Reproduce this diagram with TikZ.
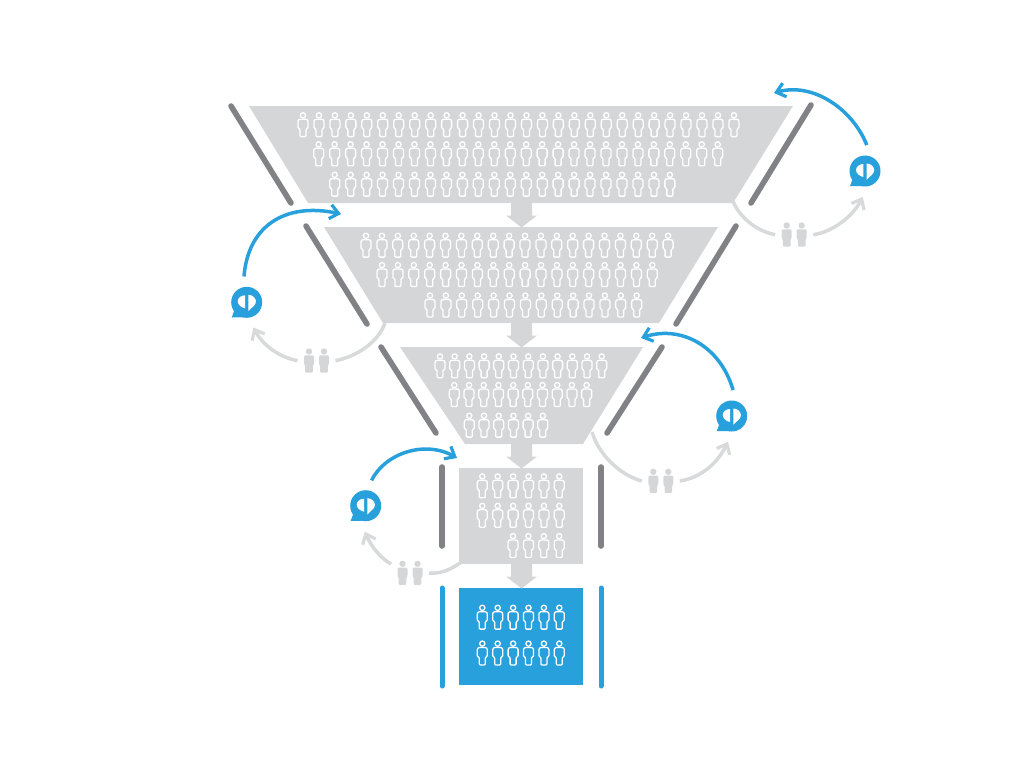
\documentclass[tikz,border=0pt]{standalone}
\usepackage{xcolor}
\usetikzlibrary{positioning,arrows.meta,calc}
\definecolor{funnelgray}{HTML}{D5D6D8}
\definecolor{bargray}{HTML}{808285}
\definecolor{arcgray}{HTML}{D8D9DB}
\definecolor{keptblue}{HTML}{27A0DC}

\begin{document}
\begin{tikzpicture}[
  x=1pt, y=-1pt,
  stagebox/.style={fill=funnelgray},
  wall/.style={draw=bargray, line width=5.6pt, line cap=round},
  bluewall/.style={draw=keptblue, line width=5pt, line cap=round},
  talk/.style={circle, fill=keptblue, minimum size=31pt, inner sep=0pt, outer sep=10.5pt},
  couple/.style={minimum width=38pt, minimum height=24pt, inner sep=0pt, outer sep=0pt},
  backarr/.style={draw=keptblue, line width=3.5pt, -{Straight Barb[length=3mm,width=5mm,line width=3.2pt]}},
  grayarr/.style={draw=arcgray, line width=3.5pt, -{Straight Barb[length=3mm,width=5mm,line width=3.2pt]}},
  grayline/.style={draw=arcgray, line width=3.5pt},
  person/.pic={
    \draw[white, line width=1.3pt] (0,-9.4) circle (2.6);
    \draw[white, line width=1.3pt, line join=round]
      (-5,0) [rounded corners=2.2pt] -- (-5,-5.5) -- (5,-5.5) -- (5,0)
      [rounded corners=0.9pt] -- (5,3.4) -- (3,4.4) -- (3,11.9)
      -- (-3,11.9) -- (-3,4.4) -- (-5,3.4) -- cycle;
  },
  talkmark/.pic={
    \fill[keptblue] (-12,7) -- (-15,15.2) -- (-2,15) -- cycle;
    \fill[white] (-1.6,-7) .. controls (-6,-7) and (-9,-4) .. (-9,-1)
      .. controls (-9,2.5) and (-5,5.5) .. (-1.6,6) -- cycle;
    \fill[white] (1.6,-7.5) .. controls (6,-7.5) and (9.2,-4) .. (9.2,-1)
      .. controls (9.2,3) and (6,4) .. (1.6,8.8) -- cycle;
  },
  walker/.pic={
    \fill[funnelgray] (0,-9.2) circle (3.2);
    \fill[funnelgray, rounded corners=1.2pt]
      (-5,-5.4) -- (5,-5.4) -- (5,3.5) -- (3.8,4) -- (3.8,12) -- (-3.8,12) -- (-3.8,4) -- (-5,3.5) -- cycle;
  }
]
\useasboundingbox (0,0) rectangle (1024,777);
% funnel stages
\fill[stagebox] (249,106) -- (793,106) -- (733,203) -- (308,203) -- cycle;
\fill[stagebox] (324,227) -- (718,227) -- (659,323) -- (383,323) -- cycle;
\fill[stagebox] (400,347) -- (643,347) -- (583,444) -- (465,444) -- cycle;
\fill[stagebox] (459,468) rectangle (583,564);
\fill[keptblue] (459,588) rectangle (583,685);
% arrows between stages
\foreach \y in {203,323,444,564}{
  \fill[stagebox, shift={(0,\y)}] (511,0) -- (532,0) -- (532,12.5) -- (537,12.5) -- (521.5,24.5) -- (506,12.5) -- (511,12.5) -- cycle;
}
% walls
\draw[wall] (231,106) -- (291,203);
\draw[wall] (811,105) -- (751,203);
\draw[wall] (306,226) -- (367,324);
\draw[wall] (736,226) -- (676,324);
\draw[wall] (381,347) -- (436,433);
\draw[wall] (662,347) -- (607,433);
\draw[wall] (442,467) -- (442,546);
\draw[wall] (601,467) -- (601,546);
\draw[bluewall] (442,588) -- (442,686);
\draw[bluewall] (601,588) -- (601,686);
% people in rows
\foreach \x/\y/\n/\d in {303/124.7/28/15.96, 318.7/153.8/26/15.96, 334.7/184.2/22/15.96,
    366/245.2/20/15.9, 382/274.5/18/15.9, 430/305/14/15.9,
    440/365.8/12/14.7, 454.3/394.5/10/14.7, 469.3/425.2/6/14.7,
    482.3/485.8/6/15.4, 482.3/515.3/6/15.4, 513/545.5/4/15.4,
    482.3/617.2/6/15.4, 482.3/653/6/15.4}{
  \foreach \i in {1,...,\n}{\pic at ({\x+(\i-1)*\d},\y) {person};}
}
% talk bubbles
\foreach \n/\x/\y in {1/865/171, 2/246.7/302.3, 3/731.7/416, 4/365.7/505.7}{
  \node[talk] (talk\n) at (\x,\y) {};
  \pic at (talk\n) {talkmark};
}
% couples
\foreach \n/\x/\y in {1/794.2/234.7, 2/316.5/360.7, 3/660.8/481, 4/410/573}{
  \node[couple] (couple\n) at (\x,\y) {};
  \pic at ($(couple\n)+(-7.5,0)$) {walker};
  \pic at ($(couple\n)+(7.5,0)$) {walker};
}
% points where the arcs meet the funnel
\coordinate (leave1) at (733,201);
\coordinate (leave2) at (385,323);
\coordinate (leave3) at (592,432);
\coordinate (leave4) at (460,563);
\coordinate (enter1) at (774,93);
\coordinate (enter2) at (341,214);
\coordinate (enter3) at (641,338);
\coordinate (enter4) at (457,458);
% gray arcs
\draw[grayline] (leave1) .. controls (738,215) and (755,231) .. (couple1.west);
\draw[grayarr] (couple1.east) .. controls (833,232) and (853,216) .. (talk1.265);
\draw[grayline] (leave2) .. controls (378,342) and (358,356) .. (couple2.east);
\draw[grayarr] (couple2.west) .. controls (278,357) and (262,344) .. (talk2.285);
\draw[grayline] (leave3) .. controls (599,455) and (620,475) .. (couple3.west);
\draw[grayarr] (couple3.east) .. controls (700,478) and (717,464) .. (talk3.262);
\draw[grayline] (leave4) .. controls (450,570) and (440,574) .. (couple4.east);
\draw[grayarr] (couple4.155) .. controls (381,558) and (372,548) .. (talk4.268);
% blue arcs
\draw[backarr] (talk1.86) .. controls (852,108) and (812,82) .. (enter1);
\draw[backarr] (talk2.96) .. controls (248,226) and (285,202) .. (enter2);
\draw[backarr] (talk3.87) .. controls (720,345) and (680,325) .. (enter3);
\draw[backarr] (talk4.77) .. controls (385,453) and (425,440) .. (enter4);
\end{tikzpicture}
\end{document}
